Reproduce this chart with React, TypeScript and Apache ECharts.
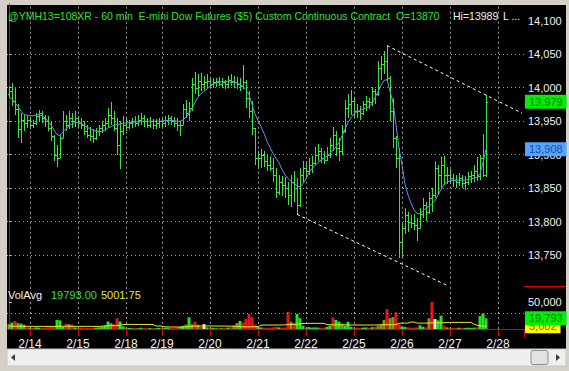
import React, { useEffect, useRef } from "react";
import * as echarts from "echarts";

// Hourly OHLC bars (open of each bar = previous close)
const firstOpen = 13990;
const highs = [
  14003, 14007, 14000, 13975, 13962, 13960, 13958, 13955, 13952, 13962, 13967, 13965, 13960, 13958, 13950, 13930,
  13915, 13930, 13965, 13960, 13966, 13962, 13965, 13958, 13955, 13950, 13945, 13942, 13938, 13940, 13945, 13950,
  13955, 13970, 13978, 13965, 13955, 13950, 13958, 13955, 13952, 13955, 13958, 13960, 13962, 13960, 13955, 13956,
  13954, 13953, 13955, 13956, 13958, 13960, 13958, 13956, 13955, 13950, 13975, 13981, 13978, 14015, 14023, 14020,
  14022, 14018, 14020, 14016, 14015, 14014, 14016, 14015, 14012, 14018, 14020, 14018, 14016, 14014, 14034, 14012,
  13995, 13980, 13940, 13905, 13908, 13906, 13900, 13898, 13895, 13880, 13870, 13868, 13866, 13860, 13870, 13875,
  13865, 13880, 13891, 13890, 13895, 13898, 13912, 13916, 13910, 13905, 13912, 13925, 13941, 13935, 13925, 13945,
  13981, 13990, 13996, 13985, 13975, 13972, 13980, 13988, 13985, 14001, 13998, 14040, 14048, 14055, 14063, 14018,
  13985, 13928, 13910, 13800, 13821, 13815, 13810, 13812, 13805, 13820, 13836, 13830, 13845, 13851, 13891, 13885,
  13896, 13898, 13881, 13878, 13871, 13870, 13872, 13870, 13868, 13874, 13876, 13885, 13896, 13900, 13931, 13989,
];
const lows = [
  13985, 13972, 13960, 13925, 13918, 13935, 13940, 13938, 13940, 13945, 13950, 13948, 13942, 13935, 13920, 13890,
  13881, 13895, 13925, 13935, 13938, 13940, 13942, 13940, 13938, 13930, 13925, 13920, 13918, 13922, 13928, 13932,
  13935, 13940, 13945, 13935, 13900, 13878, 13930, 13935, 13938, 13940, 13942, 13943, 13945, 13942, 13940, 13940,
  13938, 13938, 13940, 13941, 13942, 13944, 13945, 13942, 13935, 13928, 13945, 13955, 13950, 13965, 13990, 13988,
  13995, 13996, 14000, 14000, 14000, 14001, 14002, 14000, 13998, 14000, 14002, 14000, 13998, 13995, 13998, 13970,
  13955, 13930, 13885, 13878, 13880, 13882, 13876, 13875, 13860, 13835, 13840, 13838, 13835, 13825, 13822, 13830,
  13811, 13822, 13860, 13865, 13870, 13872, 13885, 13890, 13888, 13886, 13890, 13895, 13905, 13898, 13890, 13900,
  13932, 13955, 13960, 13955, 13955, 13952, 13960, 13966, 13968, 13972, 13975, 13988, 14012, 14020, 14010, 13950,
  13910, 13880, 13746, 13748, 13782, 13785, 13790, 13788, 13771, 13790, 13805, 13801, 13812, 13815, 13836, 13840,
  13850, 13855, 13856, 13857, 13852, 13851, 13853, 13850, 13848, 13855, 13858, 13860, 13861, 13862, 13866, 13866,
];
const closes = [
  13995, 13980, 13968, 13938, 13952, 13948, 13952, 13945, 13948, 13958, 13962, 13955, 13950, 13940, 13928, 13900,
  13895, 13925, 13950, 13945, 13955, 13950, 13955, 13948, 13945, 13935, 13930, 13928, 13925, 13935, 13940, 13945,
  13948, 13960, 13955, 13940, 13915, 13935, 13945, 13942, 13948, 13950, 13948, 13952, 13955, 13950, 13945, 13950,
  13945, 13948, 13950, 13948, 13952, 13955, 13950, 13948, 13945, 13945, 13968, 13962, 13970, 14005, 14000, 14010,
  14005, 14008, 14010, 14005, 14008, 14010, 14006, 14008, 14005, 14012, 14010, 14008, 14005, 14002, 14008, 13985,
  13965, 13940, 13895, 13895, 13900, 13890, 13885, 13880, 13870, 13845, 13860, 13855, 13850, 13840, 13860, 13850,
  13825, 13870, 13880, 13875, 13885, 13888, 13900, 13905, 13895, 13892, 13900, 13915, 13930, 13910, 13905, 13935,
  13970, 13975, 13980, 13965, 13965, 13962, 13975, 13980, 13978, 13995, 13990, 14030, 14035, 14040, 14015, 13965,
  13925, 13895, 13770, 13790, 13810, 13800, 13798, 13795, 13790, 13812, 13825, 13815, 13835, 13840, 13880, 13870,
  13885, 13870, 13870, 13865, 13862, 13860, 13865, 13858, 13860, 13868, 13870, 13875, 13868, 13895, 13870, 13979,
];
// Moving average plotted over the bars
const maValues = [
  13986, 13983, 13978, 13972, 13965, 13960, 13959, 13958, 13958, 13959, 13960, 13958, 13955, 13950, 13944, 13937,
  13930, 13929, 13934, 13939, 13943, 13946, 13948, 13948, 13947, 13944, 13941, 13939, 13937, 13935, 13934, 13935,
  13937, 13940, 13942, 13944, 13945, 13946, 13947, 13947, 13948, 13948, 13949, 13949, 13950, 13950, 13950, 13950,
  13950, 13950, 13950, 13950, 13951, 13951, 13951, 13951, 13950, 13950, 13952, 13956, 13961, 13968, 13978, 13986,
  13991, 13995, 13998, 14002, 14005, 14007, 14008, 14009, 14009, 14009, 14008, 14008, 14007, 14005, 14002, 13997,
  13990, 13975, 13961, 13951, 13942, 13932, 13920, 13911, 13902, 13895, 13888, 13878, 13870, 13865, 13860, 13857,
  13854, 13852, 13857, 13864, 13873, 13879, 13884, 13888, 13892, 13895, 13898, 13902, 13907, 13912, 13918, 13928,
  13938, 13948, 13955, 13961, 13964, 13966, 13968, 13970, 13972, 13976, 13985, 13994, 14003, 14011, 14012, 13995,
  13978, 13945, 13910, 13885, 13856, 13840, 13828, 13818, 13812, 13812, 13816, 13820, 13823, 13827, 13831, 13840,
  13848, 13856, 13859, 13861, 13862, 13862, 13862, 13862, 13862, 13863, 13864, 13865, 13866, 13872, 13888, 13908,
];
// Volume per bar and its tone: 1 up, -1 down, 0 unchanged, 2 neutral/white
const volumes = [
  9000, 12000, 15000, 11000, 10000, 8000, 3000, 2500, 2000, 3000, 2500, 2000, 2500, 3000, 4000, 3500,
  17000, 16000, 5000, 10000, 9000, 8000, 3000, 2000, 2500, 1500, 2000, 1500, 2000, 2500, 3000, 4000,
  6000, 14000, 11000, 9000, 20000, 14000, 5000, 3000, 2000, 1500, 2000, 1500, 2500, 2000, 1500, 2000,
  1500, 1500, 2000, 1500, 2000, 2500, 2000, 1500, 3000, 4000, 6000, 8000, 21600, 9000, 13500, 8000,
  4000, 9000, 3000, 2500, 2000, 1500, 2000, 1500, 2000, 2500, 3000, 6000, 11000, 15000, 12000, 18500,
  27800, 22000, 8000, 4000, 3000, 2500, 2000, 2500, 3000, 4000, 3000, 2500, 3000, 32000, 13500, 11000,
  28000, 20000, 6000, 3000, 3500, 2500, 3000, 2500, 2000, 2500, 4000, 6000, 21600, 17000, 14000, 10000,
  6000, 13500, 4000, 3000, 2500, 2000, 2500, 3000, 2000, 3500, 4000, 6000, 8000, 17000, 37000, 20000,
  22000, 31000, 9000, 5000, 4000, 3000, 2500, 2500, 3000, 7000, 4000, 3000, 20000, 50600, 18500, 16000,
  24700, 6000, 3000, 2500, 2000, 2000, 2500, 2000, 2000, 2500, 2000, 2500, 3000, 24000, 29000, 19793,
];
const volTone = [
  0, 1, -1, 0, 1, 0, -1, 1, -1, 1, 1, -1, -1, -1, -1, -1,
  1, 1, 1, -1, 0, -1, 1, -1, -1, -1, -1, -1, -1, 1, 1, 1,
  1, 1, 0, -1, -1, 1, 1, -1, 1, 1, -1, 1, 1, -1, -1, 1,
  -1, 1, 1, -1, 1, 1, -1, -1, -1, 0, 1, 0, 1, 0, -1, 0,
  -1, 2, 1, -1, 1, 1, -1, 1, -1, 1, -1, 0, 0, 1, -1, -1,
  -1, -1, -1, 1, 1, -1, -1, -1, -1, -1, 1, -1, -1, -1, 0, -1,
  1, 1, 1, -1, 1, 1, 1, 1, -1, -1, 1, 1, -1, 1, 1, 0,
  1, 1, 1, -1, -1, -1, 1, 1, -1, 1, -1, 0, 0, 0, -1, 0,
  0, -1, -1, 1, 1, -1, -1, -1, -1, 1, 1, -1, 0, -1, 2, 1,
  1, -1, 0, -1, -1, -1, 1, -1, 1, 1, 1, 1, -1, 1, 1, 1,
];
const volAvg = [
  5200, 5300, 5200, 5100, 5100, 5000, 5000, 5000, 4900, 4900, 4900, 4900, 4800, 4800, 4800, 4900,
  5000, 5000, 5100, 5100, 5100, 5100, 5000, 5000, 5000, 4900, 4900, 4900, 4800, 4800, 4900, 5200,
  5800, 6000, 6200, 6200, 6400, 6800, 8300, 8500, 8600, 8600, 8600, 8600, 8600, 8500, 8500, 8400,
  8300, 5600, 5500, 5400, 3900, 3800, 3800, 3700, 3700, 3700, 3800, 3900, 4200, 5200, 5400, 5500,
  5500, 5500, 5600, 5600, 5500, 5500, 5500, 5400, 5400, 5400, 5300, 5200, 5000, 4200, 4000, 4000,
  4000, 4100, 4100, 4200, 7200, 7300, 7400, 7400, 7400, 7400, 7400, 7500, 7600, 8200, 8500, 8600,
  8800, 9200, 10200, 10400, 10500, 10500, 10500, 10500, 10400, 10300, 8200, 7800, 7800, 7800, 7700, 7700,
  7600, 7500, 7400, 7400, 7400, 7400, 7400, 7400, 7400, 7400, 7500, 7700, 7800, 8000, 8000, 8000,
  8100, 8200, 10800, 11000, 11000, 11000, 13000, 13000, 11000, 11000, 11000, 11000, 11000, 11500, 11500, 11500,
  11500, 11600, 12300, 12300, 12300, 12300, 12300, 12300, 12300, 12300, 12300, 9000, 7000, 6000, 5400, 5001.75,
];
// Session starts (bar index) and their date labels
const sessionStarts = [7, 23, 39, 51, 67, 83, 99, 115, 131, 147, 163];
const sessionLabels = ["2/14", "2/15", "2/18", "2/19", "2/20", "2/21", "2/22", "2/25", "2/26", "2/27", "2/28"];
const priceGridLevels = [13750, 13800, 13850, 13900, 13950, 14000, 14050];
const volumeGridLevels = [30000];
// Trend lines: [barIndex, price] end points
const upperTrend = [
  [126, 14063],
  [171, 13962],
];
const lowerTrend = [
  [96, 13811],
  [146, 13705],
];

const FONT = "'Liberation Sans', Arial, sans-serif";
const GREEN = "#3be63b";
const GRID_DOT = "#9a9a9a";
const RED = "#e00000";
const NO_LINE = { color: "transparent", width: 0 };

const fmt = (v: number) => Math.round(v).toLocaleString("en-US");
const toneColor = (t: number) => (t === 1 ? "#1ee81e" : t === -1 ? "#e81414" : t === 0 ? "#8f8f1c" : "#f0f0f0");

// value badge shown on the right-hand axis
const badge = (text: string, color: string, bg: string) => ({
  show: true,
  position: "end",
  distance: 1,
  formatter: text,
  color,
  backgroundColor: bg,
  padding: [2, 4, 1, 4],
  fontSize: 11,
  fontFamily: FONT,
  opacity: 1,
});

export default function App() {
  const ref = useRef<HTMLDivElement>(null);

  useEffect(() => {
    const el = ref.current;
    if (!el) return;
    const chart = echarts.init(el, undefined, { renderer: "svg" });
    const n = closes.length;
    const last = n - 1;
    const opens = closes.map((_, i) => (i === 0 ? firstOpen : closes[i - 1]));
    const ohlc = closes.map((c, i) => [i, opens[i], highs[i], lows[i], c]);
    const xMin = -0.667;
    const xMax = 171.667;

    const renderBar = (_params: any, api: any) => {
      const i = api.value(0);
      const pH = api.coord([i, api.value(2)]);
      const pL = api.coord([i, api.value(3)]);
      const pO = api.coord([i, api.value(1)]);
      const pC = api.coord([i, api.value(4)]);
      const x = Math.round(pH[0]) + 0.5;
      const yo = Math.round(pO[1]) + 0.5;
      const yc = Math.round(pC[1]) + 0.5;
      const style = { stroke: GREEN, lineWidth: 1 };
      return {
        type: "group",
        children: [
          { type: "line", shape: { x1: x, y1: Math.round(pH[1]), x2: x, y2: Math.max(Math.round(pL[1]), Math.round(pH[1]) + 1) }, style },
          { type: "line", shape: { x1: x - 1.5, y1: yo, x2: x, y2: yo }, style },
          { type: "line", shape: { x1: x, y1: yc, x2: x + 1.5, y2: yc }, style },
        ],
      };
    };

    const hidden = { show: false };
    const headerFont = `10.5px ${FONT}`;

    chart.setOption({
      animation: false,
      backgroundColor: "#d4d0c8",
      textStyle: { fontFamily: FONT },
      grid: [
        { left: 7, right: 45, top: 4, height: 284.7 },
        { left: 7, right: 45, top: 286, height: 43 },
      ],
      xAxis: [
        { type: "value", gridIndex: 0, min: xMin, max: xMax, axisLine: hidden, axisTick: hidden, axisLabel: hidden, splitLine: hidden },
        {
          type: "value",
          gridIndex: 1,
          min: xMin,
          max: xMax,
          axisLine: { show: true, onZero: false, lineStyle: { color: RED, width: 1 } },
          axisTick: { show: true, customValues: sessionStarts, length: 7, lineStyle: { color: RED } },
          axisLabel: {
            show: true,
            customValues: sessionStarts,
            formatter: (v: number) => sessionLabels[sessionStarts.indexOf(v)] ?? "",
            color: "#f2f2f2",
            fontSize: 12,
            margin: 9,
            fontFamily: FONT,
          },
          splitLine: hidden,
        },
      ],
      yAxis: [
        {
          type: "value",
          gridIndex: 0,
          position: "right",
          min: 13700,
          max: 14125,
          interval: 50,
          axisLine: { show: true, lineStyle: { color: RED, width: 1 } },
          axisTick: { show: true, length: 3, lineStyle: { color: "#bdbdbd" } },
          axisLabel: { color: "#f2f2f2", fontSize: 11, margin: 4, fontFamily: FONT, formatter: fmt, showMinLabel: false, showMaxLabel: false },
          splitLine: hidden,
        },
        {
          type: "value",
          gridIndex: 1,
          position: "right",
          min: 0,
          max: 80000,
          interval: 50000,
          axisLine: { show: true, lineStyle: { color: RED, width: 1 } },
          axisTick: { show: true, length: 3, lineStyle: { color: "#bdbdbd" } },
          axisLabel: { color: "#f2f2f2", fontSize: 11, margin: 4, fontFamily: FONT, formatter: fmt, showMinLabel: false, showMaxLabel: false },
          splitLine: hidden,
        },
      ],
      graphic: [
        { type: "rect", z: -10, silent: true, shape: { x: 7, y: 5, width: 559, height: 344 }, style: { fill: "#000000" } },
        { type: "line", z: 10, silent: true, shape: { x1: 524, y1: 286.5, x2: 566, y2: 286.5 }, style: { stroke: RED, lineWidth: 1 } },
        { type: "line", z: 10, silent: true, shape: { x1: 524.5, y1: 329, x2: 524.5, y2: 337 }, style: { stroke: RED, lineWidth: 1 } },
        {
          type: "text",
          z: 10,
          silent: true,
          x: 8,
          y: 16,
          style: {
            text: `@YMH13=108XR - 60 min  E-mini Dow Futures ($5) Custom Continuous Contract  O=${opens[last]}`,
            fill: "#2fe02f",
            font: headerFont,
            verticalAlign: "middle",
          },
        },
        { type: "text", z: 10, silent: true, x: 453, y: 16, style: { text: `Hi=${highs[last]}`, fill: "#f2f2f2", font: headerFont, verticalAlign: "middle" } },
        { type: "text", z: 10, silent: true, x: 503, y: 16, style: { text: "L ...", fill: "#f2f2f2", font: headerFont, verticalAlign: "middle" } },
        { type: "text", z: 10, silent: true, x: 8, y: 295, style: { text: "VolAvg", fill: "#f2f2f2", font: `11px ${FONT}`, verticalAlign: "middle" } },
        { type: "text", z: 10, silent: true, x: 51, y: 295, style: { text: volumes[last].toFixed(2), fill: "#2fe02f", font: `11px ${FONT}`, verticalAlign: "middle" } },
        { type: "text", z: 10, silent: true, x: 101, y: 295, style: { text: volAvg[last].toFixed(2), fill: "#e8e82a", font: `11px ${FONT}`, verticalAlign: "middle" } },
        // scroll bar
        { type: "rect", z: 10, silent: true, shape: { x: 7, y: 349, width: 559, height: 17 }, style: { fill: "#efefef", stroke: "#c8c8c8", lineWidth: 1 } },
        { type: "rect", z: 11, silent: true, shape: { x: 531, y: 350.5, width: 17, height: 14, r: 2 }, style: { fill: "#e2e2e2", stroke: "#8e8e8e", lineWidth: 1 } },
        { type: "polygon", z: 11, silent: true, shape: { points: [[11, 357.5], [15, 354], [15, 361]] }, style: { fill: "#3a3a3a" } },
        { type: "polygon", z: 11, silent: true, shape: { points: [[560, 357.5], [556, 354], [556, 361]] }, style: { fill: "#3a3a3a" } },
      ],
      series: [
        {
          type: "custom",
          name: "Price",
          xAxisIndex: 0,
          yAxisIndex: 0,
          data: ohlc,
          encode: { x: 0, y: [1, 2, 3, 4] },
          renderItem: renderBar,
          clip: true,
          z: 3,
        },
        {
          type: "line",
          name: "Average",
          xAxisIndex: 0,
          yAxisIndex: 0,
          data: maValues.map((v, i) => [i, v]),
          symbol: "none",
          showSymbol: false,
          lineStyle: { color: "#5a9be6", width: 1 },
          z: 4,
          markLine: {
            silent: true,
            symbol: ["none", "none"],
            label: { show: false },
            lineStyle: { color: GRID_DOT, type: [1, 3], width: 1 },
            data: [
              ...priceGridLevels.map((v) => ({ yAxis: v })),
              ...sessionStarts.map((v) => ({ xAxis: v, lineStyle: { color: GRID_DOT, type: [2, 3], width: 1 } })),
              [
                { coord: upperTrend[0], lineStyle: { color: "#ffffff", type: [3, 3], width: 1 } },
                { coord: upperTrend[1], lineStyle: { color: "#ffffff", type: [3, 3], width: 1 } },
              ],
              [
                { coord: lowerTrend[0], lineStyle: { color: "#ffffff", type: [3, 3], width: 1 } },
                { coord: lowerTrend[1], lineStyle: { color: "#ffffff", type: [3, 3], width: 1 } },
              ],
            ],
          },
        },
        {
          // last close and last average badges on the price axis
          type: "line",
          name: "PriceBadges",
          xAxisIndex: 0,
          yAxisIndex: 0,
          data: [[last, closes[last]]],
          symbol: "none",
          lineStyle: NO_LINE,
          z: 6,
          markLine: {
            silent: true,
            symbol: ["none", "none"],
            lineStyle: NO_LINE,
            data: [
              { yAxis: closes[last], lineStyle: NO_LINE, label: badge(fmt(closes[last]), "#007a00", "#00ee00") },
              { yAxis: maValues[last], lineStyle: NO_LINE, label: badge(fmt(maValues[last]), "#1d4c9e", "#52a5ff") },
            ],
          },
        },
        {
          type: "line",
          name: "VolAvg",
          xAxisIndex: 1,
          yAxisIndex: 1,
          data: volAvg.map((v, i) => [i, v]),
          symbol: "none",
          showSymbol: false,
          lineStyle: { color: "#e8e82a", width: 1 },
          z: 4,
          markLine: {
            silent: true,
            symbol: ["none", "none"],
            label: { show: false },
            lineStyle: { color: GRID_DOT, type: [1, 3], width: 1 },
            data: [
              ...volumeGridLevels.map((v) => ({ yAxis: v })),
              ...sessionStarts.map((v) => ({ xAxis: v, lineStyle: { color: GRID_DOT, type: [2, 3], width: 1 } })),
            ],
          },
        },
        {
          type: "bar",
          name: "Volume",
          xAxisIndex: 1,
          yAxisIndex: 1,
          barWidth: 3,
          data: volumes.map((v, i) => ({ value: [i, v], itemStyle: { color: toneColor(volTone[i]) } })),
          z: 3,
        },
        {
          // last volume and last average badges on the volume axis
          type: "line",
          name: "VolumeBadges",
          xAxisIndex: 1,
          yAxisIndex: 1,
          data: [[last, volumes[last]]],
          symbol: "none",
          lineStyle: NO_LINE,
          z: 6,
          markLine: {
            silent: true,
            symbol: ["none", "none"],
            lineStyle: NO_LINE,
            data: [
              { yAxis: volAvg[last], lineStyle: NO_LINE, label: badge(fmt(volAvg[last]), "#6b6b00", "#ffff00") },
              { yAxis: volumes[last], lineStyle: NO_LINE, label: badge(fmt(volumes[last]), "#007a00", "#00ee00") },
            ],
          },
        },
      ],
    });

    return () => chart.dispose();
  }, []);

  return <div ref={ref} style={{ position: "fixed", left: 0, top: 0, width: 569, height: 371 }} />;
}
